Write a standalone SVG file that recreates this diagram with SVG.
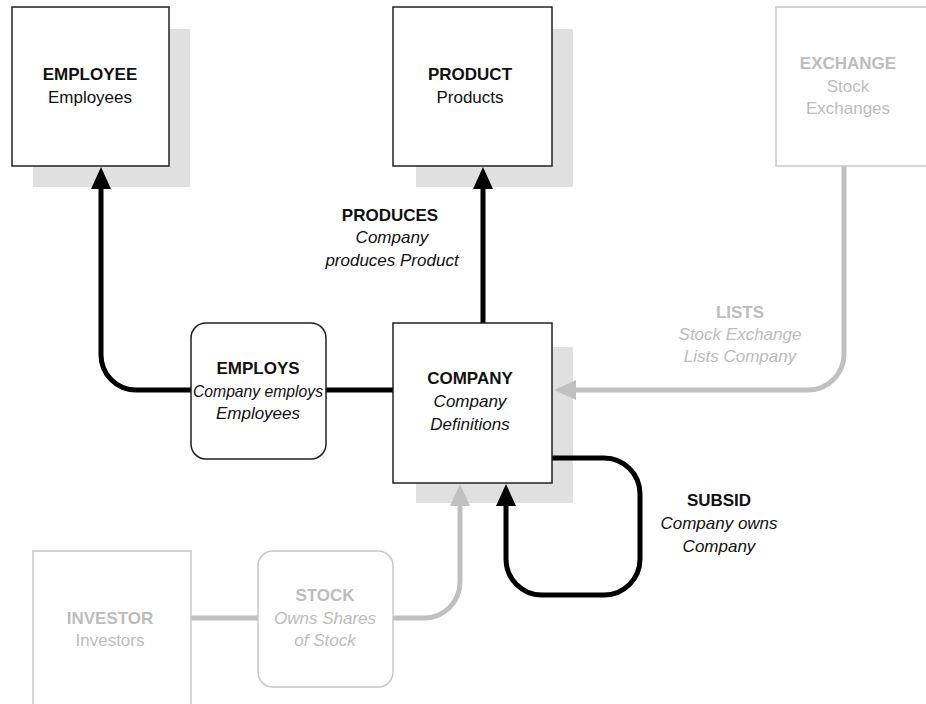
<svg xmlns="http://www.w3.org/2000/svg" width="926" height="704" viewBox="0 0 926 704">
  <style>
    text { font-family: "Liberation Sans", Arial, sans-serif; font-size: 17px; text-anchor: middle; }
    .title { font-weight: bold; }
    .desc { font-style: italic; }
    .dark text { fill: #111; }
    .faint text { fill: #bcbcbc; }
    .shadow { fill: #e0e0e0; }
    .box { fill: #fff; stroke: #222; stroke-width: 1.5; }
    .faint .box { stroke: #c8c8c8; }
    .link { fill: none; stroke: #000; stroke-width: 5; }
    .link.faint { stroke: #c0c0c0; }
  </style>
  <defs>
    <marker id="headDark" markerUnits="userSpaceOnUse" markerWidth="22" markerHeight="20" viewBox="0 0 22 20" refX="1" refY="10" orient="auto">
      <path d="M0,0 L22,10 L0,20 z" fill="#000"/>
    </marker>
    <marker id="headFaint" markerUnits="userSpaceOnUse" markerWidth="22" markerHeight="20" viewBox="0 0 22 20" refX="1" refY="10" orient="auto">
      <path d="M0,0 L22,10 L0,20 z" fill="#c0c0c0"/>
    </marker>
  </defs>

  <rect width="926" height="704" fill="#fff"/>

  <!-- drop shadows behind the main entity boxes -->
  <g id="shadows">
    <rect class="shadow" x="33" y="29" width="157" height="158"/>
    <rect class="shadow" x="416" y="29" width="157" height="158"/>
    <rect class="shadow" x="416" y="347" width="157" height="156"/>
  </g>

  <!-- relationship lines -->
  <g id="connectors">
    <path class="link" d="M191,390 H136 A35,35 0 0 1 101,355 V188" marker-end="url(#headDark)"/>
    <path class="link" d="M326,390 H393"/>
    <path class="link" d="M483,323 V188" marker-end="url(#headDark)"/>
    <path class="link" d="M552,458 H604 A36,36 0 0 1 640,494 V559 A36,36 0 0 1 604,595 H542 A36,36 0 0 1 506,559 V505" marker-end="url(#headDark)"/>
    <path class="link faint" d="M844,166 V354 A36,36 0 0 1 808,390 H575" marker-end="url(#headFaint)"/>
    <path class="link faint" d="M191,618 H258"/>
    <path class="link faint" d="M393,618 H424 A36,36 0 0 0 460,582 V505" marker-end="url(#headFaint)"/>
  </g>

  <g id="employee" class="dark">
    <rect class="box" x="12" y="7" width="157" height="159"/>
    <text class="title" x="90" y="80">EMPLOYEE</text>
    <text x="90" y="103">Employees</text>
  </g>

  <g id="product" class="dark">
    <rect class="box" x="393" y="7" width="159" height="159"/>
    <text class="title" x="470" y="80">PRODUCT</text>
    <text x="470" y="103">Products</text>
  </g>

  <g id="exchange" class="faint">
    <rect class="box" x="776" y="7" width="160" height="159"/>
    <text class="title" x="848" y="69">EXCHANGE</text>
    <text x="848" y="92">Stock</text>
    <text x="848" y="114">Exchanges</text>
  </g>

  <g id="company" class="dark">
    <rect class="box" x="393" y="323" width="159" height="160"/>
    <text class="title" x="470" y="384">COMPANY</text>
    <text class="desc" x="470" y="407">Company</text>
    <text class="desc" x="470" y="430">Definitions</text>
  </g>

  <g id="employs" class="dark">
    <rect class="box" x="191" y="323" width="135" height="136" rx="15"/>
    <text class="title" x="258" y="374">EMPLOYS</text>
    <text class="desc" x="258" y="397" textLength="130" lengthAdjust="spacingAndGlyphs">Company employs</text>
    <text class="desc" x="258" y="419">Employees</text>
  </g>

  <g id="produces" class="dark">
    <text class="title" x="390" y="221">PRODUCES</text>
    <text class="desc" x="392" y="243">Company</text>
    <text class="desc" x="392" y="266">produces Product</text>
  </g>

  <g id="lists" class="faint">
    <text class="title" x="740" y="318">LISTS</text>
    <text class="desc" x="740" y="340">Stock Exchange</text>
    <text class="desc" x="740" y="362">Lists Company</text>
  </g>

  <g id="subsid" class="dark">
    <text class="title" x="719" y="506">SUBSID</text>
    <text class="desc" x="719" y="529">Company owns</text>
    <text class="desc" x="719" y="552">Company</text>
  </g>

  <g id="investor" class="faint">
    <rect class="box" x="33" y="551" width="158" height="170"/>
    <text class="title" x="110" y="624">INVESTOR</text>
    <text x="110" y="646">Investors</text>
  </g>

  <g id="stock" class="faint">
    <rect class="box" x="258" y="551" width="135" height="136" rx="15"/>
    <text class="title" x="325" y="601">STOCK</text>
    <text class="desc" x="325" y="624">Owns Shares</text>
    <text class="desc" x="325" y="646">of Stock</text>
  </g>
</svg>
